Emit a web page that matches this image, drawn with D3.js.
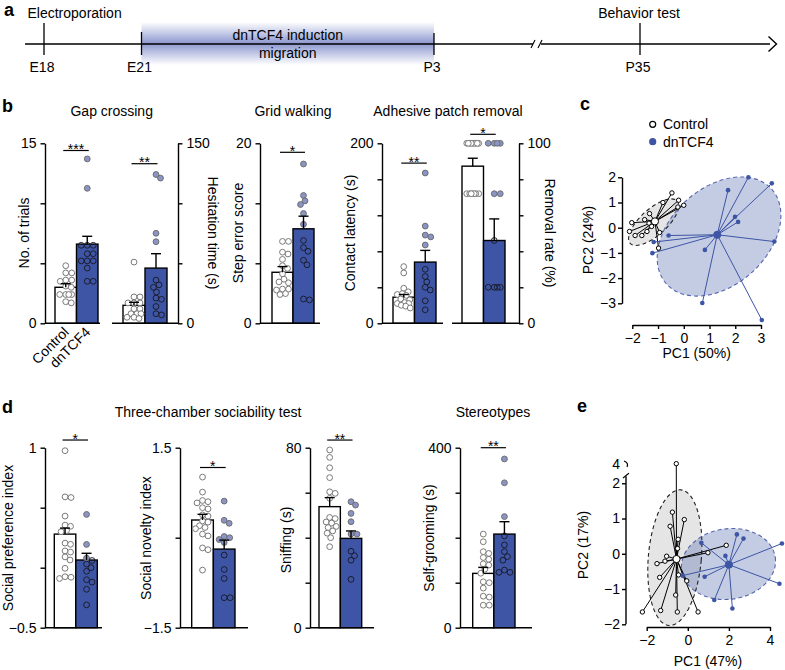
<!DOCTYPE html>
<html><head><meta charset="utf-8">
<script src="https://cdn.jsdelivr.net/npm/d3@7"></script>
<style>body{margin:0;background:#fff}</style>
</head><body><svg id="c" width="785" height="670"></svg>
<script>
// ---------------- DATA ----------------
const groups = ["Control", "dnTCF4"];
const timeLabels = ["E18", "E21", "P3", "P35"];
const timeTopLabels = ["Electroporation", "Behavior test"];
const inductionLabels = ["dnTCF4 induction", "migration"];

// b: Gap crossing – No. of trials
const trialsMean = [3.0, 6.6], trialsSem = [0.3, 0.65];
const trialsCtrl = [4.8, 4.2, 4.2, 3.6, 3.6, 3.5, 3.0, 3.1, 2.4, 2.4, 2.4, 2.4, 1.8, 1.7];
const trialsDn = [13.7, 11.25, 6.5, 6.5, 6.5, 5.8, 5.8, 5.2, 5.2, 5.2, 4.6, 3.5, 3.5];
const trialsTicks = [0, 5, 10, 15];
// b: Gap crossing – Hesitation time
const hesMean = [15, 46], hesSem = [2.5, 12];
const hesCtrl = [51, 22, 22, 17, 17, 17, 12, 12, 8, 8, 8, 5, 5, 4];
const hesDn = [124, 121, 75, 68, 36, 32, 30, 26, 21, 20, 14, 8, 7];
const hesTicks = [0, 50, 100, 150];
// b: Grid walking
const gridMean = [5.67, 10.5], gridSem = [0.63, 1.4];
const gridCtrl = [9.1, 9.1, 7.9, 7.7, 7.1, 6.4, 6.1, 5.5, 4.9, 4.6, 4.5, 3.8, 3.8, 3.7, 3.3, 3.2];
const gridDn = [17.7, 14.2, 13.6, 13.2, 12.2, 11.0, 9.2, 8.4, 8.0, 7.0, 6.5, 2.7, 2.6];
const gridTicks = [0, 6.667, 13.333, 20];
// b: Adhesive patch removal – contact latency
const contactMean = [29, 68], contactSem = [3, 13];
const contactCtrl = [63, 56, 39, 35, 33, 32, 31, 27, 26, 23, 22, 22, 20, 19, 17];
const contactDn = [167, 108, 98, 96, 87, 60, 52, 46, 40, 37, 25, 15];
const contactTicks = [0, 40, 80, 120, 160, 200];
// b: Adhesive patch removal – removal rate
const removalMean = [87.3, 46], removalSem = [4.4, 12];
const removalCtrl = [100, 100, 100, 100, 100, 100, 100, 100, 100, 72, 72, 72, 72, 72, 72, 72];
const removalDn = [100, 100, 100, 100, 72, 72, 46, 20, 20, 20, 20];
const removalTicks = [0, 20, 40, 60, 80, 100];

// c: PCA (PC1 50%, PC2 24%)
const pcaCCtrl = [[-0.46,1.38],[-0.20,1.09],[-0.81,1.00],[0.0,0.89],[-0.23,0.82],[-1.33,0.56],[-1.52,0.32],[-2.02,0.20],[-1.35,0.18],[-2.11,-0.15],[-1.89,-0.31],[-1.63,-0.31],[-1.43,-0.15],[-0.94,-0.19],[-0.98,-0.81],[-1.25,0.05]];
const pcaCDn = [[2.51,2.0],[3.42,1.76],[1.72,1.49],[1.99,0.43],[2.11,0.23],[-0.59,-0.31],[-1.17,-0.57],[-1.22,-1.01],[0.82,-0.88],[3.52,-0.55],[0.72,-2.99],[3.03,-3.66]];
const pcaCCentroids = [[-1.12, 0.25], [1.30, -0.28]];
const pcaCEllipses = [[-1.17, 0.22, 1.23, 0.52, -42], [1.37, -0.35, 2.75, 1.93, -42]]; // cx, cy, rx, ry, angle
const pcaCXTicks = [-2, -1, 0, 1, 2, 3];
const pcaCYTicks = [-3, -2, -1, 0, 1, 2];

// d: Three-chamber sociability + stereotypes
const prefMean = [0.28, 0.064], prefSem = [0.05, 0.056];
const prefCtrl = [0.975,0.59,0.585,0.43,0.355,0.345,0.31,0.30,0.205,0.195,0.14,0.13,0.09,0.064,-0.005,-0.075,-0.08,-0.09];
const prefDn = [0.444,0.194,0.08,0.06,0.03,0.0,-0.03,-0.1,-0.12,-0.18,-0.31];
const prefTicks = [-0.5, 0, 0.5, 1];
const novMean = [0.295, -0.19], novSem = [0.095, 0.15];
const novCtrl = [1.01,0.76,0.62,0.6,0.58,0.5,0.48,0.38,0.36,0.28,0.26,0.2,0.17,0.15,0.06,0.03,-0.17,-0.2,-0.54];
const novDn = [0.61,0.29,0.24,0.02,0.0,-0.03,-0.08,-0.29,-0.53,-0.68,-1.0,-1.0];
const novTicks = [-1.5, 0, 1.5];
const sniffMean = [53.8, 39.7], sniffSem = [4, 3.3];
const sniffCtrl = [79,75.7,71.1,66.7,60.4,59.7,57.5,49,48.5,47,46.5,45,44.5,43,42,40,36];
const sniffDn = [56,54.5,50.8,47.1,41.6,41.6,34,32,30,21.5];
const sniffTicks = [0, 20, 40, 60, 80];
const groomMean = [120.7, 208], groomSem = [13.3, 27.6];
const groomCtrl = [208,191,169,165,156,152,142,139,130,121,102,100,88,70,68,50,50];
const groomDn = [375,322,247,204,184,169,158,150,128,123,123];
const groomTicks = [0, 100, 200, 300, 400];

// e: PCA (PC1 47%, PC2 17%)
const pcaECtrl = [[-0.56,4.05],[-0.75,1.18],[-0.17,0.97],[-0.86,0.78],[-0.47,0.41],[-0.5,0.15],[-1.03,-0.07],[-1.11,-0.21],[-1.5,-0.28],[0.98,0.03],[1.87,0.24],[-0.45,-0.6],[-1.37,-0.67],[-0.05,-0.77],[-0.59,-1.17],[-2.21,-1.65],[-1.32,-1.61],[-0.51,-1.65],[0.5,-1.65]];
const pcaEDn = [[0.66,0.31],[2.39,0.55],[2.71,0.43],[1.83,-0.06],[4.58,0.29],[4.46,-0.85],[0.82,-0.65],[1.29,-1.31],[2.17,-1.55],[-0.25,-0.62]];
const pcaECentroids = [[-0.55, -0.15], [2.0, -0.31]];
const pcaEEllipses = [[-0.63, -0.11, 1.29, 1.93, 5], [1.98, -0.29, 2.3, 1.0, -8]];
const pcaEXTicks = [-2, 0, 2, 4];
const pcaEYTicks = [-2, -1, 0, 1, 2, 4];

// ---------------- DRAWING ----------------
const svg = d3.select("#c");
const BLUE = "#3d55a4";
const FONT = "'Liberation Sans', Arial, Helvetica, sans-serif";
const fmt = d3.format("");

function txt(x, y, s, o = {}) {
  const t = svg.append("text").attr("x", x).attr("y", y).text(s)
    .attr("font-size", o.size || 14).attr("font-family", FONT)
    .attr("text-anchor", o.anchor || "start").attr("fill", o.fill || "#000");
  if (o.weight) t.attr("font-weight", o.weight);
  if (o.rotate != null) t.attr("transform", `rotate(${o.rotate},${x},${y})`);
  return t;
}
function ln(x1, y1, x2, y2, w = 1.4, c = "#000", g = svg) {
  return g.append("line").attr("x1", x1).attr("y1", y1).attr("x2", x2).attr("y2", y2)
    .attr("stroke", c).attr("stroke-width", w);
}
function styleAxis(g) {
  g.select(".domain").attr("stroke-width", 1.4);
  g.selectAll(".tick line").attr("stroke-width", 1.4);
  g.selectAll("text").attr("font-size", 14).attr("font-family", FONT).attr("fill", "#000");
}
function yAxis(x, y, ticks, side, tickLen = 4.5, pad = 4) {
  const ends = [d3.min(ticks), d3.max(ticks)];
  const ax = (side < 0 ? d3.axisLeft(y) : d3.axisRight(y)).tickValues(ticks)
    .tickFormat(v => ends.includes(v) ? fmt(v) : "").tickSize(tickLen).tickSizeOuter(0).tickPadding(pad);
  const g = svg.append("g").attr("transform", `translate(${x},0)`).call(ax);
  styleAxis(g);
  return g;
}
function swarm(vals, y, cx, halfW, minD) {
  const idx = vals.map((v, i) => ({ v, i, y: y(v) })).sort((a, b) => b.v - a.v);
  const cands = [];
  for (let d = 0; d <= halfW + 1e-6; d += 0.5) { cands.push(d); if (d > 0) cands.push(-d); }
  const placed = [], out = new Array(vals.length);
  idx.forEach(p => {
    let best = 0, bestScore = -Infinity;
    for (const dx of cands) {
      let m = Infinity;
      for (const q of placed) { const dd = Math.hypot(dx - q.dx, p.y - q.y); if (dd < m) m = dd; }
      if (m >= minD) { best = dx; bestScore = Infinity; break; }
      if (m > bestScore + 0.01) { bestScore = m; best = dx; }
    }
    placed.push({ dx: best, y: p.y });
    out[p.i] = cx + best;
  });
  return out;
}
function barSub(cfg) {
  const x = d3.scaleBand().domain(groups).range(cfg.band);
  const bw = x.bandwidth(), y = cfg.y, y0 = y.range()[0];
  const g = svg.append("g");
  g.selectAll("rect").data(groups).join("rect")
    .attr("x", d => x(d)).attr("width", bw)
    .attr("y", (d, i) => y(cfg.mean[i])).attr("height", (d, i) => y0 - y(cfg.mean[i]))
    .attr("fill", (d, i) => i ? BLUE : "#fff").attr("stroke", "#000").attr("stroke-width", 1.4);
  [cfg.ctrl, cfg.dn].forEach((vals, i) => {
    const cx = x(groups[i]) + bw / 2;
    const xs = swarm(vals, y, cx, bw / 2 - 3.8, 5.6);
    g.selectAll(null).data(vals).join("circle")
      .attr("cx", (d, j) => xs[j]).attr("cy", d => y(d)).attr("r", 2.9)
      .attr("fill", d => i === 0 ? "#fff" : (d > cfg.mean[1] ? "#8a95c6" : "none"))
      .attr("stroke", d => i === 0 ? "#7a7a7a" : (d > cfg.mean[1] ? "#6e6e6e" : "#1b1d2e"))
      .attr("stroke-width", 1);
  });
  groups.forEach((gn, i) => {
    const cx = x(gn) + bw / 2, top = y(cfg.mean[i] + cfg.sem[i]);
    ln(cx, y(cfg.mean[i]), cx, top, 1.4, "#000", g);
    ln(cx - 5, top, cx + 5, top, 1.4, "#000", g);
  });
  const c1 = x(groups[0]) + bw / 2, c2 = x(groups[1]) + bw / 2, sy = y(cfg.sigAt);
  ln(c1 - 2.5, sy, c2 + 1.5, sy, 1.2, "#000", g);
  txt((c1 + c2) / 2 - 0.5, sy + 3.5, cfg.sig, { anchor: "middle" });
  if (cfg.base) ln(cfg.base[0], y0, cfg.base[1], y0, 1.4);
  return x;
}

// ---- panel a ----
txt(4, 16, "a", { size: 18, weight: "bold" });
const tX = d3.scaleOrdinal().domain(timeLabels).range([44, 141.5, 434, 640]);
const defs = svg.append("defs");
const grad = defs.append("linearGradient").attr("id", "ind").attr("x1", 0).attr("y1", 0).attr("x2", 0).attr("y2", 1);
grad.append("stop").attr("offset", "0%").attr("stop-color", "#fff");
grad.append("stop").attr("offset", "50%").attr("stop-color", "#8d98cf");
grad.append("stop").attr("offset", "100%").attr("stop-color", "#fff");
svg.append("rect").attr("x", tX("E21")).attr("width", tX("P3") - tX("E21")).attr("y", 22).attr("height", 43).attr("fill", "url(#ind)");
ln(25, 44, 533, 44, 1.3);
ln(541, 44, 770, 44, 1.3);
ln(531, 48, 535, 40, 1.1); ln(538, 48, 542, 40, 1.1);
svg.append("path").attr("d", "M768.5,36.5 L776.5,44 L768.5,51.5").attr("fill", "none").attr("stroke", "#000").attr("stroke-width", 1.4);
const tickTop = [23, 32, 33, 23];
timeLabels.forEach((t, i) => {
  ln(tX(t), tickTop[i], tX(t), 55, 1.3);
  txt(tX(t) - 2, 71.5, t, { anchor: "middle" });
});
txt(27.5, 18, timeTopLabels[0]);
txt(639, 18, timeTopLabels[1], { anchor: "middle" });
const midInd = (tX("E21") + tX("P3")) / 2;
txt(midInd, 40, inductionLabels[0], { anchor: "middle" });
txt(midInd, 57.5, inductionLabels[1], { anchor: "middle" });

// ---- panel b ----
txt(2, 112, "b", { size: 18, weight: "bold" });
const bTop = 143.3, bBot = 323.3;
const yTrials = d3.scaleLinear().domain([0, 15]).range([bBot, bTop]);
const yHes = d3.scaleLinear().domain([0, 150]).range([bBot, bTop]);
const yGrid = d3.scaleLinear().domain([0, 20]).range([bBot, bTop]);
const yContact = d3.scaleLinear().domain([0, 200]).range([bBot, bTop]);
const yRemoval = d3.scaleLinear().domain([0, 100]).range([bBot, bTop]);

txt(111.7, 115.5, "Gap crossing", { anchor: "middle" });
txt(293, 115.5, "Grid walking", { anchor: "middle" });
txt(448, 115.5, "Adhesive patch removal", { anchor: "middle" });

const xTrials = barSub({ band: [55, 98], y: yTrials, mean: trialsMean, sem: trialsSem, ctrl: trialsCtrl, dn: trialsDn, sig: "***", sigAt: 14.4, base: [45, 100] });
barSub({ band: [123, 167], y: yHes, mean: hesMean, sem: hesSem, ctrl: hesCtrl, dn: hesDn, sig: "**", sigAt: 133, base: [112, 178] });
barSub({ band: [272, 314], y: yGrid, mean: gridMean, sem: gridSem, ctrl: gridCtrl, dn: gridDn, sig: "*", sigAt: 19, base: [260, 320] });
barSub({ band: [393, 436], y: yContact, mean: contactMean, sem: contactSem, ctrl: contactCtrl, dn: contactDn, sig: "**", sigAt: 178, base: [382, 443] });
barSub({ band: [462, 505], y: yRemoval, mean: removalMean, sem: removalSem, ctrl: removalCtrl, dn: removalDn, sig: "*", sigAt: 105, base: [452, 519] });

yAxis(45, yTrials, trialsTicks, -1);
yAxis(178, yHes, hesTicks, 1);
yAxis(260, yGrid, gridTicks, -1);
yAxis(382, yContact, contactTicks, -1);
yAxis(519, yRemoval, removalTicks, 1);

txt(28.5, 233, "No. of trials", { anchor: "middle", rotate: -90 });
txt(208, 233, "Hesitation time (s)", { anchor: "middle", rotate: 90 });
txt(243, 233, "Step error score", { anchor: "middle", rotate: -90 });
txt(355, 233, "Contact latency (s)", { anchor: "middle", rotate: -90 });
txt(545, 233, "Removal rate (%)", { anchor: "middle", rotate: 90 });
groups.forEach(gn => {
  const cx = xTrials(gn) + xTrials.bandwidth() / 2;
  txt(cx + 4, 333, gn, { anchor: "end", rotate: -45 });
});

// ---- panel c ----
txt(580, 110, "c", { size: 18, weight: "bold" });
svg.append("circle").attr("cx", 652.7).attr("cy", 124.3).attr("r", 3).attr("fill", "#fff").attr("stroke", "#000").attr("stroke-width", 1.2);
svg.append("circle").attr("cx", 652.7).attr("cy", 141.7).attr("r", 3.6).attr("fill", BLUE);
txt(663, 129, groups[0]);
txt(663, 146.5, groups[1]);

const xc = d3.scaleLinear().domain([-2, 3]).range([632.3, 761]);
const yc = d3.scaleLinear().domain([-3, 2]).range([303.3, 177.3]);

function pcaPanel(xs, ys, ctrl, dn, cents, ells) {
  const g = svg.append("g");
  const fills = [["#000", 0.1], [BLUE, 0.3]];
  const strokes = ["#222", "#5565ad"];
  const E = ells.map(e => {
    const cx = xs(e[0]), cy = ys(e[1]);
    return { cx, cy, rx: Math.abs(xs(e[0] + e[2]) - cx), ry: Math.abs(ys(e[1] + e[3]) - cy), a: e[4] };
  });
  E.forEach((e, i) => g.append("ellipse").attr("cx", e.cx).attr("cy", e.cy).attr("rx", e.rx).attr("ry", e.ry)
    .attr("transform", `rotate(${e.a},${e.cx},${e.cy})`).attr("fill", fills[i][0]).attr("fill-opacity", fills[i][1]));
  E.forEach((e, i) => g.append("ellipse").attr("cx", e.cx).attr("cy", e.cy).attr("rx", e.rx).attr("ry", e.ry)
    .attr("transform", `rotate(${e.a},${e.cx},${e.cy})`).attr("fill", "none").attr("stroke", strokes[i])
    .attr("stroke-width", 1.1).attr("stroke-dasharray", "4,3"));
  [ctrl, dn].forEach((pts, i) => {
    const col = i ? BLUE : "#000";
    pts.forEach(p => ln(xs(cents[i][0]), ys(cents[i][1]), xs(p[0]), ys(p[1]), 1, col, g));
  });
  [ctrl, dn].forEach((pts, i) => {
    g.selectAll(null).data(pts).join("circle").attr("cx", d => xs(d[0])).attr("cy", d => ys(d[1]))
      .attr("r", i ? 2.3 : 2.2).attr("fill", i ? BLUE : "#fff").attr("stroke", i ? "none" : "#000").attr("stroke-width", 1);
  });
  cents.forEach((c, i) => g.append("circle").attr("cx", xs(c[0])).attr("cy", ys(c[1])).attr("r", 3.6)
    .attr("fill", i ? BLUE : "#fff").attr("stroke", i ? BLUE : "#000").attr("stroke-width", 1));
}
pcaPanel(xc, yc, pcaCCtrl, pcaCDn, pcaCCentroids, pcaCEllipses);
{
  const gy = svg.append("g").attr("transform", "translate(622,0)")
    .call(d3.axisLeft(yc).tickValues(pcaCYTicks).tickFormat(fmt).tickSize(4).tickSizeOuter(0).tickPadding(2));
  styleAxis(gy);
  const gx = svg.append("g").attr("transform", "translate(0,325)")
    .call(d3.axisBottom(xc).tickValues(pcaCXTicks).tickFormat(fmt).tickSize(4).tickSizeOuter(0).tickPadding(4));
  styleAxis(gx);
}
txt(696.7, 358, "PC1 (50%)", { anchor: "middle" });
txt(593, 240, "PC2 (24%)", { anchor: "middle", rotate: -90 });

// ---- panel d ----
txt(2, 413, "d", { size: 18, weight: "bold" });
const dTop = 447.7, dBot = 627.7;
const yPref = d3.scaleLinear().domain([-0.5, 1]).range([dBot, dTop]);
const yNov = d3.scaleLinear().domain([-1.5, 1.5]).range([dBot, dTop]);
const ySniff = d3.scaleLinear().domain([0, 80]).range([dBot, dTop]);
const yGroom = d3.scaleLinear().domain([0, 400]).range([dBot, dTop]);
txt(208, 416.5, "Three-chamber sociability test", { anchor: "middle" });
txt(493, 416.5, "Stereotypes", { anchor: "middle" });

barSub({ band: [54.3, 97.3], y: yPref, mean: prefMean, sem: prefSem, ctrl: prefCtrl, dn: prefDn, sig: "*", sigAt: 1.064, base: [45, 102] });
barSub({ band: [191.7, 235], y: yNov, mean: novMean, sem: novSem, ctrl: novCtrl, dn: novDn, sig: "*", sigAt: 1.17, base: [180, 248] });
barSub({ band: [319, 361.7], y: ySniff, mean: sniffMean, sem: sniffSem, ctrl: sniffCtrl, dn: sniffDn, sig: "**", sigAt: 83.4, base: [310, 374] });
barSub({ band: [472.7, 515], y: yGroom, mean: groomMean, sem: groomSem, ctrl: groomCtrl, dn: groomDn, sig: "**", sigAt: 400, base: [460, 532] });

yAxis(45, yPref, prefTicks, -1);
yAxis(180, yNov, novTicks, -1);
yAxis(310, ySniff, sniffTicks, -1);
yAxis(460, yGroom, groomTicks, -1);

txt(13, 538, "Social preference index", { anchor: "middle", rotate: -90 });
txt(151, 538, "Social novelty index", { anchor: "middle", rotate: -90 });
txt(291, 540, "Sniffing (s)", { anchor: "middle", rotate: -90 });
txt(434, 538, "Self-grooming (s)", { anchor: "middle", rotate: -90 });

// ---- panel e ----
txt(577, 412, "e", { size: 18, weight: "bold" });
const xe = d3.scaleLinear().domain([-2, 4]).range([646.7, 770]);
const ye = d3.scaleLinear().domain([-2, 2.2, 4]).range([624.3, 476.2, 464]);
pcaPanel(xe, ye, pcaECtrl, pcaEDn, pcaECentroids, pcaEEllipses);
{
  const gy = svg.append("g").attr("transform", "translate(626,0)")
    .call(d3.axisLeft(ye).tickValues(pcaEYTicks).tickFormat(fmt).tickSize(4).tickSizeOuter(0).tickPadding(2));
  styleAxis(gy);
  gy.select(".domain").remove();
  gy.append("line").attr("x1", 0).attr("x2", 0).attr("y1", ye(-2)).attr("y2", ye(2.2)).attr("stroke", "#000").attr("stroke-width", 1.4);
  gy.append("path").attr("d", `M-3,${ye(2.2) + 2} Q0,${ye(2.2) - 1} 3,${ye(2.2) - 3}`).attr("fill", "none").attr("stroke", "#000").attr("stroke-width", 1.2);
  gy.append("path").attr("d", `M-2,${ye(4) - 3} Q3,${ye(4) - 1} 1,${ye(4) + 3}`).attr("fill", "none").attr("stroke", "#000").attr("stroke-width", 1.2);
  gy.selectAll(".tick").filter(d => d === 4).select("line").remove();
  const gx = svg.append("g").attr("transform", "translate(0,627)")
    .call(d3.axisBottom(xe).tickValues(pcaEXTicks).tickFormat(fmt).tickSize(4).tickSizeOuter(0).tickPadding(4));
  styleAxis(gx);
}
txt(708, 666, "PC1 (47%)", { anchor: "middle" });
txt(588, 545, "PC2 (17%)", { anchor: "middle", rotate: -90 });
</script></body></html>
